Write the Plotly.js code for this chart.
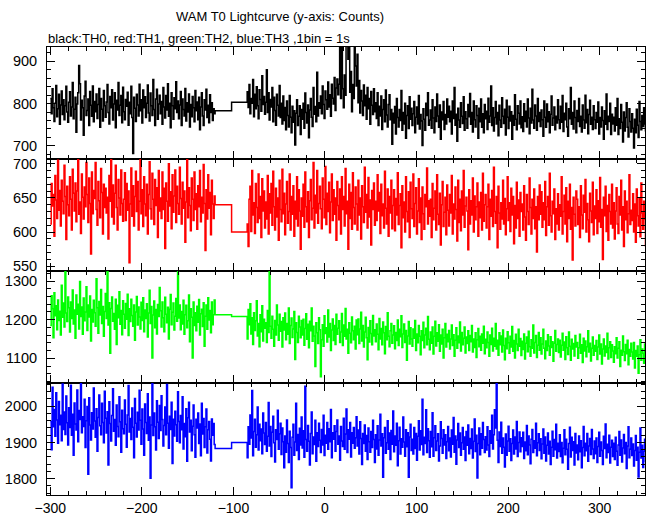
<!DOCTYPE html>
<html><head><meta charset="utf-8">
<script src="https://cdn.plot.ly/plotly-3.0.1.min.js"></script>
<style>html,body{margin:0;padding:0;background:#fff}#chart{width:652px;height:515px}</style>
</head><body><div id="chart"></div>
<script>
// bin times (s): first segment start, gap bin edges, second segment start
const segAStart = -300;
const gapEdges = [-120, -102];
const segBStart = -85;

// TH0 (black)
const th0A = [812,776,835,790,758,801,843,769,788,822,751,797,830,774,809,762,795,841,780,756,
803,828,771,792,850,764,787,815,732,799,826,890,847,761,808,790,725,818,853,772,
784,811,748,829,796,770,842,757,805,781,823,765,798,836,744,812,787,759,831,795,
768,804,845,779,752,817,790,833,761,799,826,743,808,785,850,772,796,819,755,839,
781,762,810,794,827,749,803,776,841,767,682,815,789,758,822,797,771,846,783,809,
754,832,790,816,767,801,844,778,759,825,795,772,857,786,748,811,834,763,799,820,
776,805,751,838,792,766,819,785,847,770,801,743,826,795,763,814,788,852,779,806,
764,797,829,748,811,786,771,836,759,802,780,823,745,798,769,817,790,757,831,783,
804,762,815,738,792,826,771,748,809,785,834,767,796,755,821,779,802,760,788,776];
const th0Gap = [783, 803];
const th0B = [828,791,845,776,812,801,857,769,822,788,840,795,764,833,810,782,866,798,817,775,
803,880,779,826,761,810,792,838,757,815,784,749,822,796,771,843,767,801,752,818,
760,791,738,806,772,745,819,768,731,794,756,783,702,777,809,748,770,795,727,786,
763,801,742,825,779,754,797,719,785,812,768,746,838,775,793,757,874,771,802,789,
818,776,842,798,765,830,809,787,851,792,821,770,846,813,799,862,784,837,858,821,
846,958,812,940,835,790,868,820,951,972,905,948,827,876,781,845,812,936,889,842,
917,802,855,778,831,806,772,844,795,820,763,838,788,812,751,829,796,774,835,781,
802,765,826,748,794,771,818,739,786,809,757,832,773,745,798,821,762,786,704,777,
754,793,728,812,767,745,786,760,831,737,779,752,801,718,772,795,741,816,763,789,
748,776,805,731,768,792,752,819,740,774,759,701,788,763,737,801,772,826,749,761,
785,742,809,766,731,792,758,823,771,744,797,716,780,762,805,739,774,752,811,768,
794,757,782,728,806,765,838,749,775,711,789,761,744,802,770,753,816,737,781,764,
742,798,769,824,751,779,733,806,762,745,795,772,718,789,757,811,744,776,731,798,
764,782,739,813,756,771,842,748,790,735,767,805,752,779,724,796,761,744,814,770,
753,787,726,808,768,741,794,759,781,716,772,749,821,763,738,795,777,752,806,743,
769,734,800,758,782,745,811,766,729,789,754,834,761,742,797,771,737,812,758,779,
746,785,762,723,806,768,744,799,757,781,731,775,818,749,766,792,738,770,754,809,
762,741,794,756,819,734,777,762,801,745,723,788,764,838,751,779,740,806,767,731,
784,758,812,746,770,733,797,761,742,820,755,786,729,774,808,751,768,739,795,762,
741,779,756,804,728,767,745,792,760,716,783,751,823,739,770,758,801,727,775,752,
768,735,790,749,812,727,764,741,798,756,709,780,735,767,802,744,721,788,758,733,
776,742,695,763,731,787,749,720,805,758,738,772,746,790,752,736,768,741,780,755];

// TH1 (red)
const th1A = [612,671,638,655,594,683,647,620,705,632,661,609,676,645,627,698,652,589,667,640,
624,681,648,603,692,657,631,672,615,660,710,626,644,598,685,651,619,666,637,702,
655,614,679,642,568,688,627,661,649,702,633,610,674,646,621,693,658,597,670,636,
664,628,651,590,683,645,707,622,669,612,657,698,636,603,677,650,625,691,642,616,
648,687,617,671,632,660,555,641,694,623,668,609,652,689,630,674,603,645,710,627,
662,608,681,641,624,670,597,655,703,634,619,686,648,611,677,639,665,592,690,631,
650,620,688,633,664,576,672,645,616,700,638,659,605,684,629,653,691,614,667,642,
626,695,649,612,673,635,660,585,644,706,621,665,639,602,679,648,617,688,633,656,
604,668,637,690,615,651,628,699,642,573,662,619,684,635,658,596,676,641,620,653];
const th1Gap = [640, 600];
const th1B = [612,579,648,667,601,690,625,643,598,671,636,614,685,620,652,592,678,631,660,606,
644,619,683,597,656,628,671,610,689,637,603,664,622,650,588,676,633,615,692,627,
657,596,641,674,613,630,685,603,652,626,668,594,645,619,681,609,662,631,575,650,
623,670,607,688,637,615,659,592,646,677,618,635,702,606,654,628,690,613,642,667,
634,605,679,648,621,696,611,657,630,673,599,644,685,617,662,626,650,588,674,639,
618,663,597,681,633,652,609,693,627,645,575,670,620,658,604,687,636,612,666,641,
603,676,625,650,590,668,637,614,695,629,655,606,680,622,647,581,661,633,672,610,
645,617,684,631,658,598,670,624,641,606,689,635,612,663,594,652,628,676,605,639,
662,602,649,625,687,611,639,656,577,668,621,644,600,681,630,615,659,592,673,634,
620,685,608,642,665,597,631,678,614,650,589,666,627,604,655,637,694,612,646,623,
648,592,671,618,635,660,603,684,626,611,657,581,640,674,608,629,651,596,669,632,
609,655,628,683,597,641,619,666,633,587,676,614,648,602,660,625,690,607,638,651,
631,574,662,612,646,625,679,600,653,618,637,672,594,644,621,658,603,686,616,640,
655,606,637,670,589,648,623,661,608,695,630,613,652,577,667,628,604,643,619,676,
612,649,596,634,681,617,643,601,664,625,652,583,639,606,673,620,647,594,658,630,
641,603,668,622,588,655,630,611,679,636,597,648,620,663,605,637,571,652,618,669,
626,659,607,643,618,674,595,637,652,610,686,624,600,645,627,663,589,634,612,656,
603,640,623,681,597,630,654,612,665,586,645,620,670,604,636,559,651,626,609,660,
648,611,637,592,668,625,605,654,629,677,600,642,618,586,657,631,614,673,596,638,
620,662,598,646,615,680,607,633,560,651,624,667,601,639,588,655,630,612,670,606,
643,590,631,665,612,598,652,625,676,603,637,579,660,618,645,599,627,684,611,632,
617,656,600,641,585,663,624,609,650,593,672,628,604,645,619,580,659,634,606,639];

// TH2 (green)
const th2A = [1185,1262,1228,1153,1270,1210,1236,1174,1251,1198,1222,1160,1289,1206,1243,1181,1330,1217,1195,1259,
1231,1168,1246,1203,1277,1189,1225,1152,1264,1214,1240,1176,1299,1208,1233,1162,1256,1197,1220,1285,
1172,1238,1207,1261,1145,1226,1194,1250,1218,1183,1306,1231,1165,1247,1212,1278,1190,1234,1157,1221,
1268,1203,1327,1186,1244,1113,1229,1259,1196,1216,1175,1253,1136,1237,1205,1272,1188,1224,1161,1249,
1214,1178,1242,1201,1266,1159,1228,1195,1253,1211,1183,1238,1147,1220,1260,1186,1233,1207,1176,1245,
1198,1257,1169,1225,1203,1241,1155,1217,1276,1190,1234,1101,1212,1248,1179,1226,1163,1239,1208,1283,
1223,1181,1246,1205,1169,1258,1214,1192,1232,1150,1227,1265,1187,1219,1243,1173,1209,1255,1196,1330,
1204,1238,1174,1221,1189,1250,1162,1213,1237,1179,1197,1264,1143,1228,1206,1101,1246,1185,1218,1171,
1235,1193,1252,1160,1215,1227,1182,1244,1131,1209,1238,1175,1257,1199,1224,1166,1246,1187,1213,1251];
const th2Gap = [1213, 1208];
const th2B = [1150,1226,1187,1241,1163,1205,1136,1218,1172,1197,1249,1158,1190,1130,1213,1169,1236,1145,1201,1178,
1192,1141,1224,1167,1330,1183,1152,1209,1175,1131,1198,1160,1238,1186,1147,1214,1170,1195,1129,1205,
1173,1217,1148,1190,1162,1230,1138,1185,1204,1154,1176,1221,1097,1192,1167,1141,1209,1181,1153,1198,
1160,1201,1134,1177,1215,1149,1188,1127,1196,1171,1230,1144,1183,1158,1079,1192,1166,1138,1205,1174,
1052,1148,1187,1131,1210,1164,1179,1142,1225,1155,1190,1120,1173,1202,1146,1185,1136,1214,1162,1178,
1197,1141,1168,1216,1133,1186,1157,1229,1150,1175,1113,1192,1165,1140,1207,1171,1148,1183,1124,1199,
1161,1202,1138,1176,1219,1145,1185,1129,1168,1206,1153,1096,1180,1142,1197,1164,1135,1211,1158,1174,
1143,1189,1162,1122,1203,1150,1177,1135,1194,1166,1112,1182,1148,1218,1157,1130,1171,1190,1139,1160,
1184,1125,1167,1146,1199,1133,1175,1156,1210,1128,1163,1189,1141,1172,1095,1158,1195,1137,1179,1150,
1131,1176,1152,1198,1120,1163,1140,1185,1157,1109,1171,1146,1193,1127,1160,1178,1135,1208,1149,1122,
1168,1139,1181,1111,1157,1196,1132,1166,1144,1187,1118,1160,1137,1175,1101,1153,1190,1129,1162,1143,
1172,1124,1150,1186,1133,1161,1105,1147,1179,1126,1158,1140,1194,1119,1167,1135,1152,1181,1114,1155,
1138,1171,1120,1159,1143,1185,1116,1150,1128,1166,1102,1148,1177,1130,1157,1121,1163,1139,1183,1112,
1149,1127,1168,1141,1105,1160,1136,1178,1119,1152,1131,1190,1124,1147,1108,1166,1135,1158,1116,1173,
1133,1096,1152,1125,1169,1140,1113,1157,1129,1182,1118,1146,1101,1162,1137,1120,1175,1131,1151,1107,
1144,1123,1163,1098,1139,1155,1117,1170,1130,1105,1148,1126,1186,1114,1141,1159,1102,1134,1167,1121,
1153,1111,1137,1175,1126,1099,1145,1120,1161,1132,1108,1156,1128,1143,1092,1139,1172,1118,1136,1150,
1115,1147,1103,1134,1165,1121,1142,1097,1156,1127,1110,1168,1131,1095,1149,1124,1138,1106,1159,1129,
1141,1100,1127,1162,1113,1135,1089,1152,1119,1145,1104,1130,1171,1116,1139,1093,1126,1155,1108,1133,
1118,1146,1097,1129,1160,1111,1137,1085,1124,1150,1106,1132,1115,1165,1098,1127,1143,1102,1135,1119,
1090,1130,1112,1153,1101,1126,1143,1079,1121,1108,1158,1117,1094,1136,1112,1147,1083,1123,1105,1139,
1116,1098,1141,1075,1120,1105,1132,1061,1109,1148,1095,1124,1113,1087,1137,1101,1119,1092,1130,1110];

// TH3 (blue)
const th3A = [1958,1880,2052,1943,1991,1917,2037,1962,1898,2013,1949,1975,1905,2061,1936,1984,1922,2028,1954,1893,
1996,1941,2058,1920,1978,1865,2009,1951,1934,2045,1902,1988,1963,2064,1927,1971,1944,2019,1886,1960,
1999,1812,2023,1948,1907,1982,1937,2050,1959,1914,1993,1876,1969,2031,1946,1921,2008,1955,1899,2041,
1967,1926,1985,1838,2012,1952,1904,1974,2048,1931,1963,1892,2003,1944,1916,2026,1957,1873,1989,1938,
1924,2017,1950,1887,1976,2057,1929,1966,1908,1995,1942,1858,2021,1953,1915,1983,1934,2044,1961,1895,
1992,1937,1865,2006,1955,1925,2034,1906,1970,1801,1948,2063,1919,1981,1943,1879,2015,1956,1911,2002,
1933,2029,1963,1890,1947,1998,1921,2060,1953,1884,1972,1936,2011,1842,1964,1918,1986,1949,1903,2040,
1958,1899,1974,1935,2026,1882,1952,1916,1993,1848,1968,2011,1929,1961,1877,1945,2003,1921,1859,1964,
1940,1981,1897,1951,1863,2008,1923,1966,1886,1943,1992,1871,1935,1958,1909,1849,1965,1920,1952,1894];
const th3Gap = [1883, 1900];
const th3B = [1858,1943,1895,1976,1912,2043,1863,1930,1964,1887,1921,1998,1879,1950,1905,1937,1869,1981,1926,1894,
1955,1876,1917,2010,1890,1944,1861,1928,1972,1899,1846,1935,1908,1989,1881,1924,1953,1867,1940,1902,
1830,1918,1873,1962,1897,1845,1931,1886,1775,1914,1950,1865,1901,2008,1878,1922,1853,1939,1893,1970,
1885,1932,1859,2055,1908,1876,1947,1903,1838,1925,1984,1869,1915,1894,1961,1848,1927,1889,1953,1906,
1872,1936,1893,1975,1864,1920,1898,1955,1881,1938,1902,1991,1858,1927,1909,1946,1876,1930,1962,1895,
1918,1851,1944,1904,1889,1967,1881,1923,1992,1872,1935,1909,1955,1860,1927,1898,1941,1884,1913,1971,
1890,1934,1868,1957,1911,1839,1925,1897,1948,1876,1919,1853,1940,1902,1873,1930,1886,1961,1908,1845,
1921,1882,1946,1865,1907,1978,1890,1924,1804,1913,1941,1870,1899,1960,1881,1926,1853,1933,1895,1987,
1874,1918,1892,1953,1836,1905,1942,1868,1910,1887,1970,1901,1862,1935,1888,1927,1804,1915,1950,1878,
1909,1868,1941,1883,1925,1851,1917,1960,1879,1932,1894,2019,1866,1914,1897,1990,1872,1938,1905,1859,
1930,1888,1982,1862,1913,1946,1878,1904,1924,1849,1890,1957,1911,1870,1935,1893,1921,1856,1902,1944,
1877,1912,1860,1934,1895,1969,1873,1918,1840,1907,1952,1886,1926,1865,1899,1941,1881,1915,1850,1930,
1892,1948,1869,1911,1883,1937,1857,1903,1965,1875,1920,1802,1897,1940,1866,1924,1884,1955,1908,1872,
1916,1879,1943,1893,1861,1932,1898,1975,1882,1921,1990,1940,2062,1906,1845,1929,1889,1956,1870,1912,
1887,1832,1923,1865,1904,1945,1876,1910,1850,1897,1934,1868,1915,1882,1958,1861,1900,1929,1874,1913,
1889,1928,1856,1901,1877,1947,1866,1918,1893,1841,1909,1936,1872,1905,1884,1953,1863,1899,1924,1878,
1910,1855,1896,1937,1870,1915,1849,1892,1926,1868,1903,1839,1887,1931,1862,1908,1880,1950,1857,1898,
1875,1921,1861,1900,1844,1884,1935,1866,1909,1881,1826,1897,1942,1860,1914,1878,1902,1838,1925,1871,
1893,1852,1918,1874,1905,1830,1886,1944,1863,1898,1877,1925,1848,1890,1911,1867,1936,1882,1856,1904,
1869,1912,1845,1889,1928,1862,1901,1878,1839,1917,1883,1951,1858,1895,1872,1920,1843,1887,1906,1861,
1898,1853,1914,1876,1837,1893,1930,1865,1907,1846,1885,1922,1869,1900,1828,1890,1943,1858,1881,1912,
1864,1896,1835,1878,1919,1851,1887,1805,1873,1940,1857,1892,1831,1876,1909,1848,1883,1866,1899,1852];

const seriesNames = ['TH0','TH1','TH2','TH3'];
const seriesColors = ['#000000','#ff0000','#00ff00','#0000ff'];
const xTickVals = [-300,-200,-100,0,100,200,300];

function build(a, g, b) {
  const x = [], y = [];
  a.forEach((v, i) => { x.push(segAStart + i); y.push(v); });
  x.push(gapEdges[0]); y.push(g[0]);
  x.push(gapEdges[1]); y.push(g[1]);
  b.forEach((v, i) => { x.push(segBStart + i); y.push(v); });
  x.push(segBStart + b.length); y.push(b[b.length - 1]);
  return {x, y};
}

const sets = [[th0A, th0Gap, th0B],[th1A, th1Gap, th1B],[th2A, th2Gap, th2B],[th3A, th3Gap, th3B]];
const traces = sets.map((s, k) => {
  const d = build(s[0], s[1], s[2]);
  return {x: d.x, y: d.y, type: 'scatter', mode: 'lines', name: seriesNames[k],
    line: {shape: 'hv', color: seriesColors[k], width: 1.5},
    xaxis: 'x' + (k + 1), yaxis: 'y' + (k + 1), hoverinfo: 'skip'};
});

const font = {family: 'Liberation Sans, Arial, sans-serif', size: 14, color: '#000'};
const xRange = [-303.6, 349.5];
const yRanges = [[669, 934], [543, 707], [1036, 1326], [1755, 2064]];
const yDticks = [100, 50, 100, 100];
const yMinor = [20, 10, 20, 20];

const layout = {
  width: 652, height: 515, showlegend: false,
  paper_bgcolor: '#fff', plot_bgcolor: '#fff',
  margin: {l: 47, r: 7, t: 47, b: 20},
  font: font,
  annotations: [
    {text: 'WAM T0 Lightcurve (y-axis: Counts)', xref: 'paper', yref: 'paper', x: 0.39, y: 1.069,
     xanchor: 'center', yanchor: 'middle', showarrow: false, font: {family: font.family, size: 13, color: '#000'}},
    {text: 'black:TH0, red:TH1, green:TH2, blue:TH3 ,1bin = 1s', xref: 'paper', yref: 'paper', x: -0.002, y: 1.02,
     xanchor: 'left', yanchor: 'middle', showarrow: false, font: {family: font.family, size: 13, color: '#000'}}
  ]
};

for (let k = 0; k < 4; k++) {
  const xa = {
    range: xRange, anchor: 'y' + (k + 1), showline: true, linecolor: '#000', linewidth: 1, mirror: 'ticks',
    ticks: 'inside', ticklen: 8, tickcolor: '#000', tickwidth: 1, tickvals: xTickVals,
    showgrid: false, zeroline: false, showticklabels: k === 3, tickfont: {family: font.family, size: 14},
    minor: {ticks: 'inside', ticklen: 4, dtick: 20, tick0: 0, tickcolor: '#000', showgrid: false}
  };
  const ya = {
    range: yRanges[k], domain: [0.75 - 0.25 * k, 1 - 0.25 * k], anchor: 'x' + (k + 1),
    showline: true, linecolor: '#000', linewidth: 1, mirror: 'ticks',
    ticks: 'inside', ticklen: 8, tickcolor: '#000', tickwidth: 1, dtick: yDticks[k], tick0: 0,
    showgrid: false, zeroline: false, tickfont: {family: font.family, size: 14.5}, ticklabelstandoff: 6,
    minor: {ticks: 'inside', ticklen: 4, dtick: yMinor[k], tick0: 0, tickcolor: '#000', showgrid: false}
  };
  layout[k === 0 ? 'xaxis' : 'xaxis' + (k + 1)] = xa;
  layout[k === 0 ? 'yaxis' : 'yaxis' + (k + 1)] = ya;
}

Plotly.newPlot('chart', traces, layout, {displayModeBar: false, staticPlot: true});
</script>
</body></html>
